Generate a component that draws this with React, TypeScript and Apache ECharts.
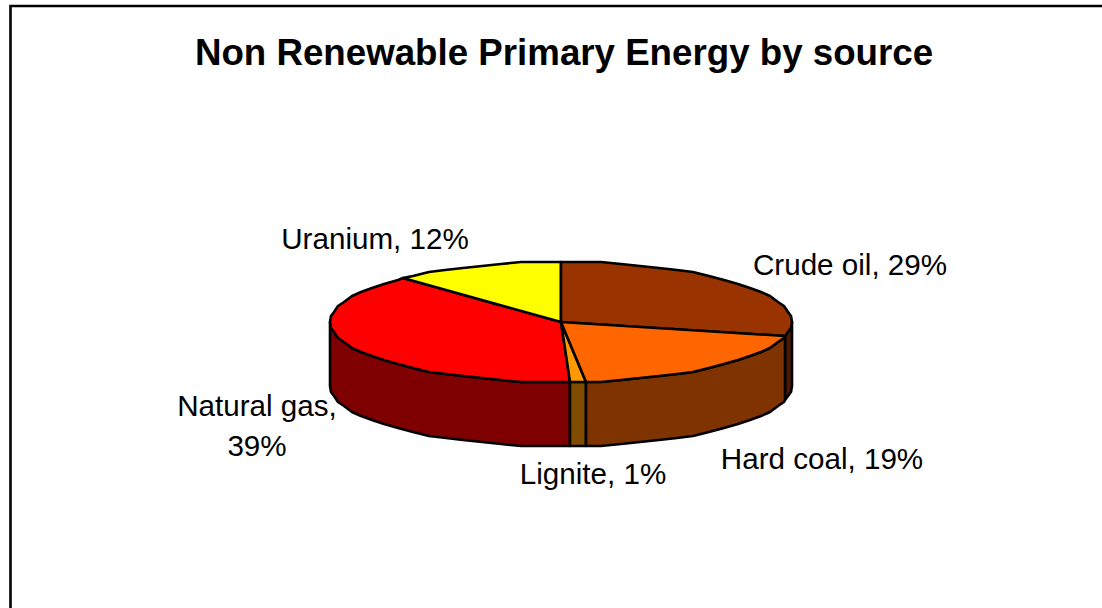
import React, { useEffect, useRef } from "react";
import * as echarts from "echarts";

const categories = ["Crude oil", "Hard coal", "Lignite", "Natural gas", "Uranium"];
const values = [29, 19.3, 1.1, 38.6, 12];
const labels = ["Crude oil, 29%", "Hard coal, 19%", "Lignite, 1%", "Natural gas,\n39%", "Uranium, 12%"];
const topColors = ["#993300", "#FF6600", "#FF9900", "#FF0000", "#FFFF00"];
const sideColors = ["#4C1900", "#7F3300", "#7F4C00", "#7F0000", "#7F7F00"];
const labelAnchors = [[850, 264], [822, 458], [593, 473], [257, 425], [375, 238]];

const CX = 561, CY = 322, RX = 231, RY = 60, DEPTH = 64;
const STEP = 5;
const FONT = "Liberation Sans, Arial, sans-serif";

const total = values.reduce((a, b) => a + b, 0);
const toPoint = (deg: number, dy = 0) => {
  const r = (deg * Math.PI) / 180;
  return [Math.round(CX + RX * Math.sin(r)), Math.round((CY - RY * Math.cos(r)) / 2) * 2 + dy];
};
// Rim as a coarse polygon on a fixed angular grid, like the source's faceted outline.
const arc = (a: number, b: number, dy = 0) => {
  const lo = Math.min(a, b), hi = Math.max(a, b);
  const angles = [lo];
  for (let d = Math.ceil(lo / STEP + 0.01) * STEP; d < hi; d += STEP) angles.push(d);
  angles.push(hi);
  if (a > b) angles.reverse();
  return angles.map((d) => toPoint(d, dy));
};

const slices = (() => {
  let acc = 0;
  return values.map((v) => {
    const start = (acc / total) * 360;
    acc += v;
    return { start, end: (acc / total) * 360 };
  });
})();

const stroke = { stroke: "#000", lineWidth: 2.6, lineJoin: "round" as const };

function renderItem(params: any, api: any) {
  const i = api.value(0) as number;
  const { start, end } = slices[i];
  const children: any[] = [];
  const a = Math.max(start, 90), b = Math.min(end, 270);
  if (b > a) {
    children.push({
      type: "polygon",
      shape: { points: [...arc(a, b), ...arc(b, a, DEPTH)] },
      style: { fill: sideColors[i], ...stroke },
    });
  }
  children.push({
    type: "polygon",
    shape: { points: [[CX, CY], ...arc(start, end)] },
    style: { fill: topColors[i], ...stroke },
  });
  return { type: "group", children };
}

export default function App() {
  const ref = useRef<HTMLDivElement>(null);
  useEffect(() => {
    const chart = echarts.init(ref.current!, undefined, { renderer: "svg" });
    chart.setOption({
      animation: false,
      backgroundColor: "#fff",
      title: {
        text: "Non Renewable Primary Energy by source",
        left: 559,
        top: 29,
        textAlign: "center",
        textStyle: { fontFamily: FONT, fontSize: 36.7, fontWeight: "bold", color: "#000" },
      },
      graphic: [
        {
          type: "polyline",
          shape: { points: [[10.5, 608], [10.5, 6], [1102, 6]] },
          style: { fill: "none", stroke: "#000", lineWidth: 2.6 },
          silent: true,
        },
        ...labels.map((t, i) => ({
          type: "text",
          x: labelAnchors[i][0],
          y: labelAnchors[i][1],
          style: {
            text: t,
            fontFamily: FONT,
            fontSize: 29.6,
            lineHeight: 40,
            fill: "#000",
            align: "center",
            verticalAlign: "middle",
          },
          silent: true,
        })),
      ],
      xAxis: { show: false, type: "value" },
      yAxis: { show: false, type: "value" },
      series: [
        {
          type: "custom",
          coordinateSystem: "none",
          renderItem,
          data: [3, 4, 0, 2, 1].map((i) => ({ name: categories[i], value: [i, values[i]] })),
          encode: { value: 1 },
          silent: true,
        },
      ],
    });
    return () => chart.dispose();
  }, []);
  return <div ref={ref} style={{ width: 1102, height: 608, position: "absolute", left: 0, top: 0 }} />;
}
